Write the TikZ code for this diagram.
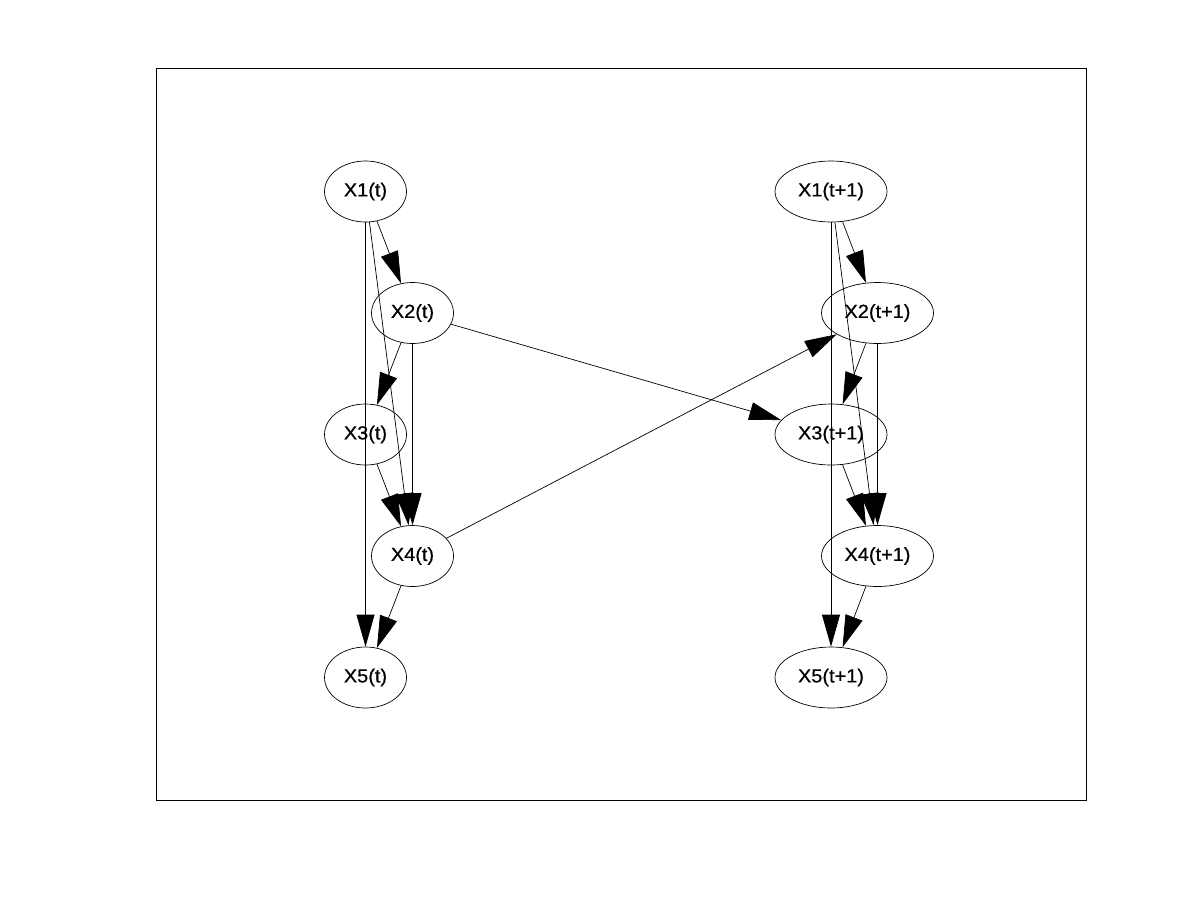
\documentclass[tikz,border=0pt]{standalone}
\usepackage{fontspec}
\newfontfamily\lab[FakeStretch=1.05,FakeBold=0.6]{Liberation Sans}
\usetikzlibrary{arrows.meta,shapes.geometric}
\begin{document}
\begin{tikzpicture}[x=1pt,y=-1pt,
  nd/.style={draw, ellipse, line width=0.7pt, minimum width=#1, minimum height=61pt, inner sep=0pt, font=\lab\fontsize{19}{21}\selectfont},
  nd/.default=82pt,
  ed/.style={-{Triangle[length=32pt,width=18pt]}, line width=0.7pt}]
\fill[white] (0,0) rectangle (1201,900);
\useasboundingbox (0,0) rectangle (1201,900);
\draw[line width=0.7pt] (156,68) rectangle (1086,800);
% left column
\node[nd] (a1) at (365.5,191.5) {X1(t)};
\node[nd] (a2) at (412.5,313) {X2(t)};
\node[nd] (a3) at (365.5,434.5) {X3(t)};
\node[nd] (a4) at (412.5,556) {X4(t)};
\node[nd] (a5) at (365.5,677.5) {X5(t)};
% right column
\node[nd=112pt] (b1) at (831,191.5) {X1(t+1)};
\node[nd=112pt] (b2) at (877.5,313) {X2(t+1)};
\node[nd=112pt] (b3) at (831,434.5) {X3(t+1)};
\node[nd=112pt] (b4) at (877.5,556) {X4(t+1)};
\node[nd=112pt] (b5) at (831,677.5) {X5(t+1)};
% left edges
\draw[ed] (a1) -- (a2);
\draw[ed] (a1) -- (a4);
\draw[ed] (a1) -- (a5);
\draw[ed] (a2) -- (a3);
\draw[ed] (a2) -- (a4);
\draw[ed] (a3) -- (a4);
\draw[ed] (a4) -- (a5);
% right edges
\draw[ed] (b1) -- (b2);
\draw[ed] (b1) -- (b4);
\draw[ed] (b1) -- (b5);
\draw[ed] (b2) -- (b3);
\draw[ed] (b2) -- (b4);
\draw[ed] (b3) -- (b4);
\draw[ed] (b4) -- (b5);
% cross edges
\draw[ed] (a2) -- (b3);
\draw[ed] (a4) -- (b2);
\end{tikzpicture}
\end{document}
